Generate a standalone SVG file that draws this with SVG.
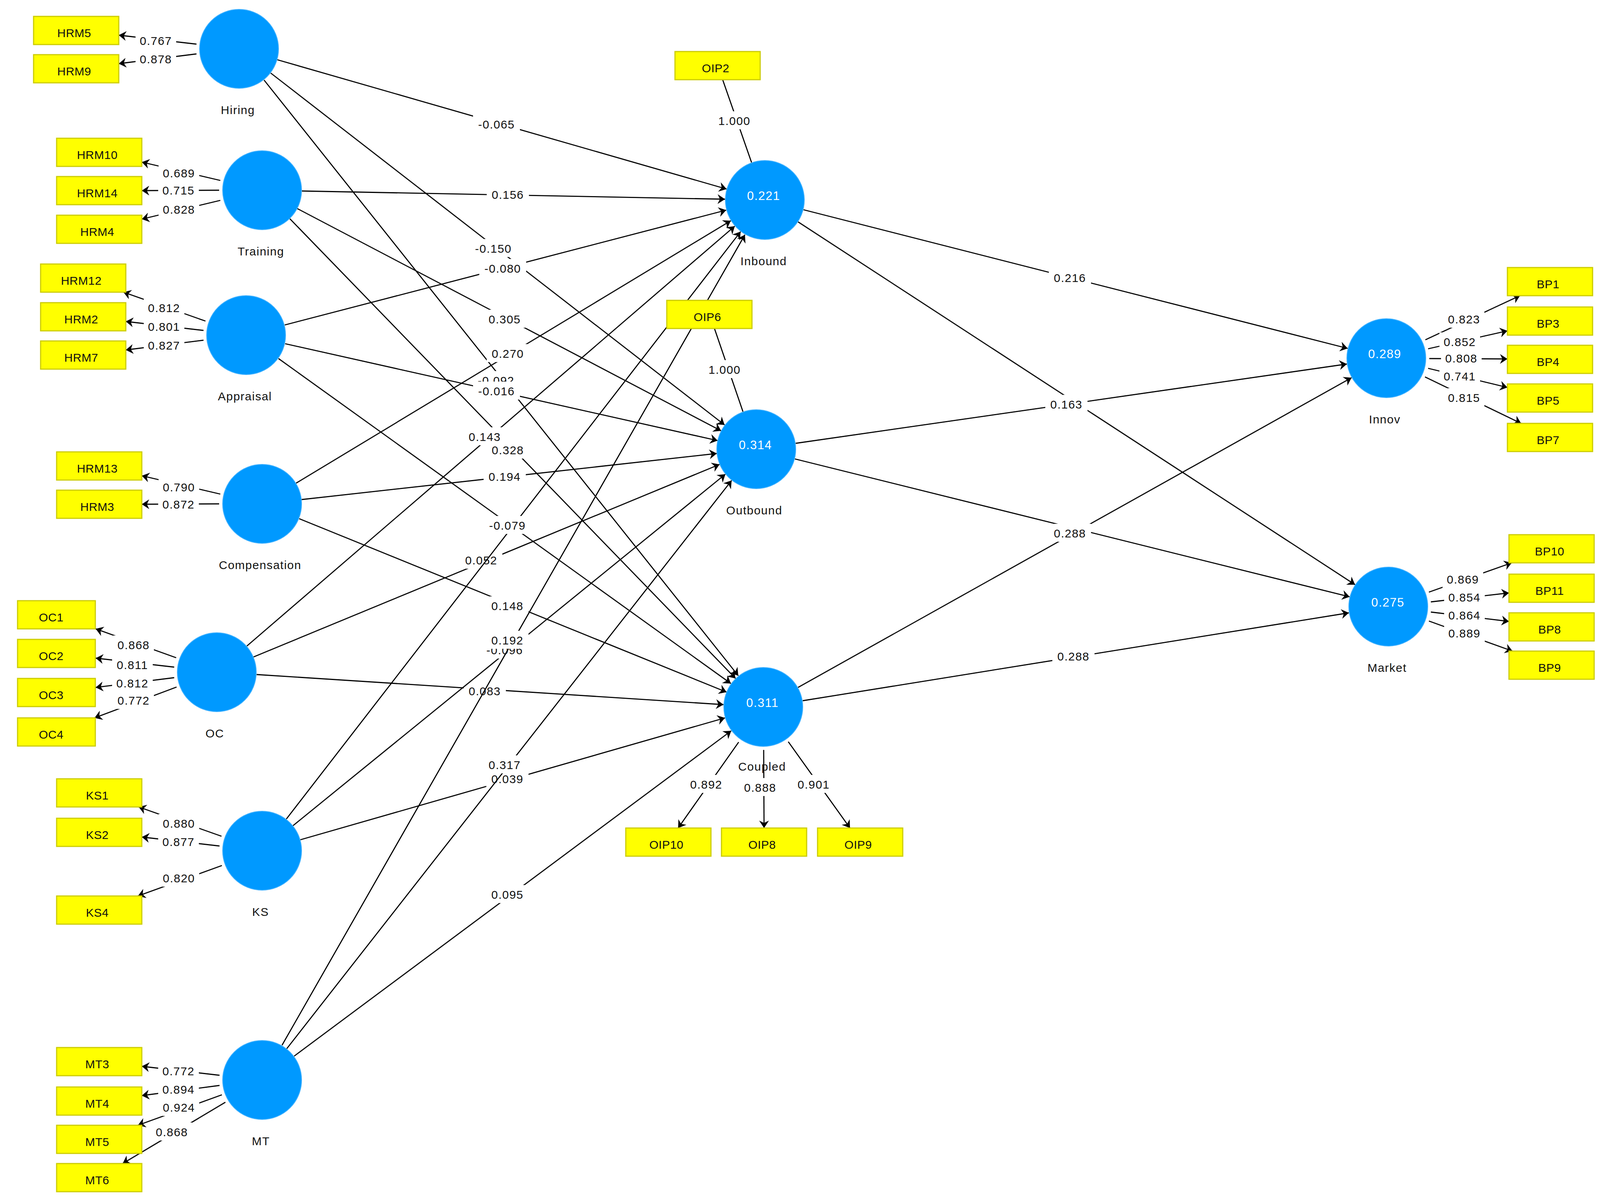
<svg xmlns="http://www.w3.org/2000/svg" width="4114" height="3080" viewBox="0 0 4114 3080">
<defs>
<marker id="ah" viewBox="-20 -13 21 26" refX="0" refY="0" markerWidth="21" markerHeight="26" markerUnits="userSpaceOnUse" orient="auto"><path d="M0,0 L-19,-12.5 L-13,0 L-19,12.5 Z" fill="#000"/></marker>
<style>
.p{stroke:#000;stroke-width:2.8;fill:none;marker-end:url(#ah)}
.n{stroke:#000;stroke-width:2.8;fill:none}
.bg{fill:#fff}
.t{font-family:"Liberation Sans",Arial,sans-serif;font-size:30px;letter-spacing:1.5px;fill:#111;text-anchor:middle}
.bx rect{fill:#ffff00;stroke:#cccc00;stroke-width:3}
.bx text{font-family:"Liberation Sans",Arial,sans-serif;font-size:30px;letter-spacing:0.5px;fill:#111;text-anchor:middle}
.lv circle{fill:#0099ff;stroke:#3db0ff;stroke-width:2}
.lv text{font-family:"Liberation Sans",Arial,sans-serif;font-size:30px;letter-spacing:1.5px;fill:#111;text-anchor:middle}
.lv text.v{fill:#fff;font-size:31px}
</style>
</defs>
<rect width="4114" height="3080" fill="#fff"/>
<g id="connectors">
<line class="p" x1="710" y1="153" x2="1860" y2="484"/>
<rect class="bg" x="1211" y="294" width="120" height="46"/><text class="t" x="1271" y="329">-0.065</text>
<line class="p" x1="693" y1="187" x2="1855" y2="1088"/>
<rect class="bg" x="1203" y="612" width="120" height="46"/><text class="t" x="1263" y="647">-0.150</text>
<line class="p" x1="676" y1="205" x2="1890" y2="1730"/>
<rect class="bg" x="1210" y="950" width="120" height="46"/><text class="t" x="1270" y="985">-0.092</text>
<line class="p" x1="773" y1="489" x2="1856" y2="510"/>
<rect class="bg" x="1246" y="474" width="108" height="46"/><text class="t" x="1300" y="509">0.156</text>
<line class="p" x1="761" y1="534" x2="1846" y2="1103"/>
<rect class="bg" x="1238" y="793" width="108" height="46"/><text class="t" x="1292" y="828">0.305</text>
<line class="p" x1="742" y1="560" x2="1883" y2="1737"/>
<rect class="bg" x="1246" y="1128" width="108" height="46"/><text class="t" x="1300" y="1163">0.328</text>
<line class="p" x1="729" y1="832" x2="1859" y2="538"/>
<rect class="bg" x="1227" y="663" width="120" height="46"/><text class="t" x="1287" y="698">-0.080</text>
<line class="p" x1="730" y1="880" x2="1837" y2="1128"/>
<rect class="bg" x="1211" y="977" width="120" height="46"/><text class="t" x="1271" y="1012">-0.016</text>
<line class="p" x1="713" y1="918" x2="1871" y2="1750"/>
<line class="p" x1="758" y1="1237" x2="1871" y2="565"/>
<rect class="bg" x="1246" y="881" width="108" height="46"/><text class="t" x="1300" y="916">0.270</text>
<line class="p" x1="772" y1="1279" x2="1835" y2="1161"/>
<rect class="bg" x="1238" y="1196" width="108" height="46"/><text class="t" x="1292" y="1231">0.194</text>
<line class="p" x1="766" y1="1328" x2="1860" y2="1772"/>
<rect class="bg" x="1245" y="1527" width="108" height="46"/><text class="t" x="1299" y="1562">0.148</text>
<line class="p" x1="632" y1="1654" x2="1881" y2="579"/>
<rect class="bg" x="1187" y="1094" width="108" height="46"/><text class="t" x="1241" y="1129">0.143</text>
<line class="p" x1="649" y1="1682" x2="1842" y2="1189"/>
<rect class="bg" x="1178" y="1410" width="108" height="46"/><text class="t" x="1232" y="1445">0.052</text>
<line class="p" x1="657" y1="1727" x2="1852" y2="1804"/>
<rect class="bg" x="1187" y="1745" width="108" height="46"/><text class="t" x="1241" y="1780">0.083</text>
<line class="p" x1="733" y1="2097" x2="1896" y2="593"/>
<rect class="bg" x="1239" y="1321" width="120" height="46"/><text class="t" x="1299" y="1356">-0.079</text>
<line class="p" x1="750" y1="2114" x2="1857" y2="1214"/>
<rect class="bg" x="1232" y="1640" width="120" height="46"/><text class="t" x="1292" y="1675">-0.096</text>
<line class="p" x1="769" y1="2150" x2="1856" y2="1838"/>
<rect class="bg" x="1245" y="1970" width="108" height="46"/><text class="t" x="1299" y="2005">0.039</text>
<line class="p" x1="722" y1="2676" x2="1907" y2="601"/>
<rect class="bg" x="1245" y="1615" width="108" height="46"/><text class="t" x="1299" y="1650">0.192</text>
<line class="p" x1="734" y1="2685" x2="1873" y2="1230"/>
<rect class="bg" x="1238" y="1934" width="108" height="46"/><text class="t" x="1292" y="1969">0.317</text>
<line class="p" x1="753" y1="2704" x2="1872" y2="1871"/>
<rect class="bg" x="1245" y="2266" width="108" height="46"/><text class="t" x="1299" y="2301">0.095</text>
<line class="p" x1="2057" y1="537" x2="3450" y2="892"/>
<rect class="bg" x="2685" y="687" width="108" height="46"/><text class="t" x="2739" y="722">0.216</text>
<line class="p" x1="2043" y1="568" x2="3469" y2="1497"/>
<line class="p" x1="2037" y1="1135" x2="3448" y2="932"/>
<rect class="bg" x="2676" y="1011" width="108" height="46"/><text class="t" x="2730" y="1046">0.163</text>
<line class="p" x1="2035" y1="1175" x2="3455" y2="1528"/>
<line class="p" x1="2043" y1="1760" x2="3460" y2="967"/>
<rect class="bg" x="2685" y="1341" width="108" height="46"/><text class="t" x="2739" y="1376">0.288</text>
<line class="p" x1="2055" y1="1794" x2="3453" y2="1569"/>
<rect class="bg" x="2694" y="1656" width="108" height="46"/><text class="t" x="2748" y="1691">0.288</text>
<line class="p" x1="503" y1="113" x2="304" y2="90"/>
<rect class="bg" x="347" y="80" width="104" height="46"/><text class="t" x="399" y="115">0.767</text>
<line class="p" x1="503" y1="138" x2="304" y2="163"/>
<rect class="bg" x="347" y="127" width="104" height="46"/><text class="t" x="399" y="162">0.878</text>
<line class="p" x1="564" y1="462" x2="363" y2="415"/>
<rect class="bg" x="406" y="419" width="104" height="46"/><text class="t" x="458" y="454">0.689</text>
<line class="p" x1="561" y1="487" x2="363" y2="488"/>
<rect class="bg" x="405" y="463" width="104" height="46"/><text class="t" x="457" y="498">0.715</text>
<line class="p" x1="564" y1="513" x2="363" y2="561"/>
<rect class="bg" x="406" y="512" width="104" height="46"/><text class="t" x="458" y="547">0.828</text>
<line class="p" x1="526" y1="822" x2="316" y2="748"/>
<rect class="bg" x="368" y="764" width="104" height="46"/><text class="t" x="420" y="799">0.812</text>
<line class="p" x1="521" y1="846" x2="322" y2="823"/>
<rect class="bg" x="368" y="812" width="104" height="46"/><text class="t" x="420" y="847">0.801</text>
<line class="p" x1="521" y1="871" x2="322" y2="896"/>
<rect class="bg" x="368" y="860" width="104" height="46"/><text class="t" x="420" y="895">0.827</text>
<line class="p" x1="564" y1="1265" x2="363" y2="1218"/>
<rect class="bg" x="406" y="1223" width="104" height="46"/><text class="t" x="458" y="1258">0.790</text>
<line class="p" x1="561" y1="1290" x2="363" y2="1291"/>
<rect class="bg" x="405" y="1267" width="104" height="46"/><text class="t" x="457" y="1302">0.872</text>
<line class="p" x1="451" y1="1684" x2="245" y2="1610"/>
<rect class="bg" x="290" y="1627" width="104" height="46"/><text class="t" x="342" y="1662">0.868</text>
<line class="p" x1="446" y1="1708" x2="245" y2="1685"/>
<rect class="bg" x="287" y="1678" width="104" height="46"/><text class="t" x="339" y="1713">0.811</text>
<line class="p" x1="446" y1="1735" x2="245" y2="1760"/>
<rect class="bg" x="287" y="1725" width="104" height="46"/><text class="t" x="339" y="1760">0.812</text>
<line class="p" x1="452" y1="1759" x2="242" y2="1838"/>
<rect class="bg" x="290" y="1769" width="104" height="46"/><text class="t" x="342" y="1804">0.772</text>
<line class="p" x1="567" y1="2141" x2="355" y2="2066"/>
<rect class="bg" x="406" y="2084" width="104" height="46"/><text class="t" x="458" y="2119">0.880</text>
<line class="p" x1="562" y1="2166" x2="363" y2="2143"/>
<rect class="bg" x="405" y="2131" width="104" height="46"/><text class="t" x="457" y="2166">0.877</text>
<line class="p" x1="568" y1="2216" x2="353" y2="2294"/>
<rect class="bg" x="406" y="2224" width="104" height="46"/><text class="t" x="458" y="2259">0.820</text>
<line class="p" x1="562" y1="2753" x2="363" y2="2730"/>
<rect class="bg" x="405" y="2718" width="104" height="46"/><text class="t" x="457" y="2753">0.772</text>
<line class="p" x1="562" y1="2779" x2="363" y2="2805"/>
<rect class="bg" x="405" y="2765" width="104" height="46"/><text class="t" x="457" y="2800">0.894</text>
<line class="p" x1="568" y1="2803" x2="353" y2="2881"/>
<rect class="bg" x="406" y="2811" width="104" height="46"/><text class="t" x="458" y="2846">0.924</text>
<line class="p" x1="577" y1="2822" x2="314" y2="2979"/>
<rect class="bg" x="388" y="2874" width="104" height="46"/><text class="t" x="440" y="2909">0.868</text>
<line class="p" x1="1891" y1="1900" x2="1736" y2="2120"/>
<rect class="bg" x="1756" y="1984" width="104" height="46"/><text class="t" x="1808" y="2019">0.892</text>
<line class="p" x1="1955" y1="1920" x2="1956" y2="2120"/>
<rect class="bg" x="1894" y="1992" width="104" height="46"/><text class="t" x="1946" y="2027">0.888</text>
<line class="p" x1="2018" y1="1899" x2="2176" y2="2120"/>
<rect class="bg" x="2031" y="1984" width="104" height="46"/><text class="t" x="2083" y="2019">0.901</text>
<line class="n" x1="1850" y1="204" x2="1924" y2="416"/>
<rect class="bg" x="1828" y="285" width="104" height="46"/><text class="t" x="1880" y="320">1.000</text>
<line class="n" x1="1829" y1="841" x2="1902" y2="1054"/>
<rect class="bg" x="1803" y="922" width="104" height="46"/><text class="t" x="1855" y="957">1.000</text>
<line class="p" x1="3649" y1="870" x2="3891" y2="757"/>
<rect class="bg" x="3696" y="793" width="104" height="46"/><text class="t" x="3748" y="828">0.823</text>
<line class="p" x1="3656" y1="893" x2="3859" y2="847"/>
<rect class="bg" x="3685" y="851" width="104" height="46"/><text class="t" x="3737" y="886">0.852</text>
<line class="p" x1="3659" y1="918" x2="3859" y2="919"/>
<rect class="bg" x="3689" y="893" width="104" height="46"/><text class="t" x="3741" y="928">0.808</text>
<line class="p" x1="3656" y1="943" x2="3859" y2="992"/>
<rect class="bg" x="3685" y="939" width="104" height="46"/><text class="t" x="3737" y="974">0.741</text>
<line class="p" x1="3648" y1="965" x2="3894" y2="1084"/>
<rect class="bg" x="3696" y="994" width="104" height="46"/><text class="t" x="3748" y="1029">0.815</text>
<line class="p" x1="3658" y1="1516" x2="3870" y2="1441"/>
<rect class="bg" x="3693" y="1459" width="104" height="46"/><text class="t" x="3745" y="1494">0.869</text>
<line class="p" x1="3663" y1="1541" x2="3863" y2="1518"/>
<rect class="bg" x="3697" y="1505" width="104" height="46"/><text class="t" x="3749" y="1540">0.854</text>
<line class="p" x1="3663" y1="1567" x2="3863" y2="1591"/>
<rect class="bg" x="3697" y="1551" width="104" height="46"/><text class="t" x="3749" y="1586">0.864</text>
<line class="p" x1="3658" y1="1590" x2="3872" y2="1667"/>
<rect class="bg" x="3697" y="1597" width="104" height="46"/><text class="t" x="3749" y="1632">0.889</text>
</g>
<g id="indicators">
<g id="HRM5" class="bx"><rect x="86" y="42" width="218" height="72"/><text x="190" y="95">HRM5</text></g>
<g id="HRM9" class="bx"><rect x="86" y="140" width="218" height="72"/><text x="190" y="193">HRM9</text></g>
<g id="HRM10" class="bx"><rect x="145" y="354" width="218" height="72"/><text x="249" y="407">HRM10</text></g>
<g id="HRM14" class="bx"><rect x="145" y="452" width="218" height="72"/><text x="249" y="505">HRM14</text></g>
<g id="HRM4" class="bx"><rect x="145" y="551" width="218" height="72"/><text x="249" y="604">HRM4</text></g>
<g id="HRM12" class="bx"><rect x="104" y="676" width="218" height="72"/><text x="208" y="729">HRM12</text></g>
<g id="HRM2" class="bx"><rect x="104" y="775" width="218" height="72"/><text x="208" y="828">HRM2</text></g>
<g id="HRM7" class="bx"><rect x="104" y="873" width="218" height="72"/><text x="208" y="926">HRM7</text></g>
<g id="HRM13" class="bx"><rect x="145" y="1157" width="218" height="72"/><text x="249" y="1210">HRM13</text></g>
<g id="HRM3" class="bx"><rect x="145" y="1255" width="218" height="72"/><text x="249" y="1308">HRM3</text></g>
<g id="OC1" class="bx"><rect x="45" y="1538" width="199" height="72"/><text x="131" y="1591">OC1</text></g>
<g id="OC2" class="bx"><rect x="45" y="1637" width="199" height="72"/><text x="131" y="1690">OC2</text></g>
<g id="OC3" class="bx"><rect x="45" y="1737" width="199" height="72"/><text x="131" y="1790">OC3</text></g>
<g id="OC4" class="bx"><rect x="45" y="1838" width="199" height="72"/><text x="131" y="1891">OC4</text></g>
<g id="KS1" class="bx"><rect x="145" y="1994" width="218" height="72"/><text x="249" y="2047">KS1</text></g>
<g id="KS2" class="bx"><rect x="145" y="2095" width="218" height="72"/><text x="249" y="2148">KS2</text></g>
<g id="KS4" class="bx"><rect x="145" y="2294" width="218" height="72"/><text x="249" y="2347">KS4</text></g>
<g id="MT3" class="bx"><rect x="145" y="2682" width="218" height="72"/><text x="249" y="2735">MT3</text></g>
<g id="MT4" class="bx"><rect x="145" y="2783" width="218" height="72"/><text x="249" y="2836">MT4</text></g>
<g id="MT5" class="bx"><rect x="145" y="2881" width="218" height="72"/><text x="249" y="2934">MT5</text></g>
<g id="MT6" class="bx"><rect x="145" y="2979" width="218" height="72"/><text x="249" y="3032">MT6</text></g>
<g id="OIP2" class="bx"><rect x="1728" y="132" width="218" height="72"/><text x="1832" y="185">OIP2</text></g>
<g id="OIP6" class="bx"><rect x="1707" y="769" width="218" height="72"/><text x="1811" y="822">OIP6</text></g>
<g id="OIP10" class="bx"><rect x="1602" y="2120" width="218" height="72"/><text x="1706" y="2173">OIP10</text></g>
<g id="OIP8" class="bx"><rect x="1847" y="2120" width="218" height="72"/><text x="1951" y="2173">OIP8</text></g>
<g id="OIP9" class="bx"><rect x="2093" y="2120" width="218" height="72"/><text x="2197" y="2173">OIP9</text></g>
<g id="BP1" class="bx"><rect x="3859" y="685" width="218" height="72"/><text x="3963" y="738">BP1</text></g>
<g id="BP3" class="bx"><rect x="3859" y="786" width="218" height="72"/><text x="3963" y="839">BP3</text></g>
<g id="BP4" class="bx"><rect x="3859" y="884" width="218" height="72"/><text x="3963" y="937">BP4</text></g>
<g id="BP5" class="bx"><rect x="3859" y="983" width="218" height="72"/><text x="3963" y="1036">BP5</text></g>
<g id="BP7" class="bx"><rect x="3859" y="1084" width="218" height="72"/><text x="3963" y="1137">BP7</text></g>
<g id="BP10" class="bx"><rect x="3863" y="1369" width="218" height="72"/><text x="3967" y="1422">BP10</text></g>
<g id="BP11" class="bx"><rect x="3863" y="1470" width="218" height="72"/><text x="3967" y="1523">BP11</text></g>
<g id="BP8" class="bx"><rect x="3863" y="1569" width="218" height="72"/><text x="3967" y="1622">BP8</text></g>
<g id="BP9" class="bx"><rect x="3863" y="1667" width="218" height="72"/><text x="3967" y="1720">BP9</text></g>
</g>
<g id="latents">
<g id="Hiring" class="lv"><circle cx="612" cy="125" r="101"/><text x="609" y="292">Hiring</text></g>
<g id="Training" class="lv"><circle cx="671" cy="487" r="101"/><text x="668" y="654">Training</text></g>
<g id="Appraisal" class="lv"><circle cx="630" cy="858" r="101"/><text x="627" y="1025">Appraisal</text></g>
<g id="Compensation" class="lv"><circle cx="671" cy="1290" r="101"/><text x="666" y="1457">Compensation</text></g>
<g id="OC" class="lv"><circle cx="555" cy="1721" r="101"/><text x="550" y="1888">OC</text></g>
<g id="KS" class="lv"><circle cx="671" cy="2178" r="101"/><text x="667" y="2345">KS</text></g>
<g id="MT" class="lv"><circle cx="671" cy="2765" r="101"/><text x="668" y="2932">MT</text></g>
<g id="Inbound" class="lv"><circle cx="1958" cy="512" r="101"/><text class="v" x="1955" y="512">0.221</text><text x="1955" y="679">Inbound</text></g>
<g id="Outbound" class="lv"><circle cx="1936" cy="1150" r="101"/><text class="v" x="1934" y="1150">0.314</text><text x="1931" y="1317">Outbound</text></g>
<g id="Coupled" class="lv"><circle cx="1954" cy="1810" r="101"/><text class="v" x="1952" y="1810">0.311</text><text x="1951" y="1973">Coupled</text></g>
<g id="Innov" class="lv"><circle cx="3549" cy="917" r="101"/><text class="v" x="3545" y="917">0.289</text><text x="3545" y="1084">Innov</text></g>
<g id="Market" class="lv"><circle cx="3554" cy="1553" r="101"/><text class="v" x="3553" y="1553">0.275</text><text x="3551" y="1720">Market</text></g>
</g>
</svg>
